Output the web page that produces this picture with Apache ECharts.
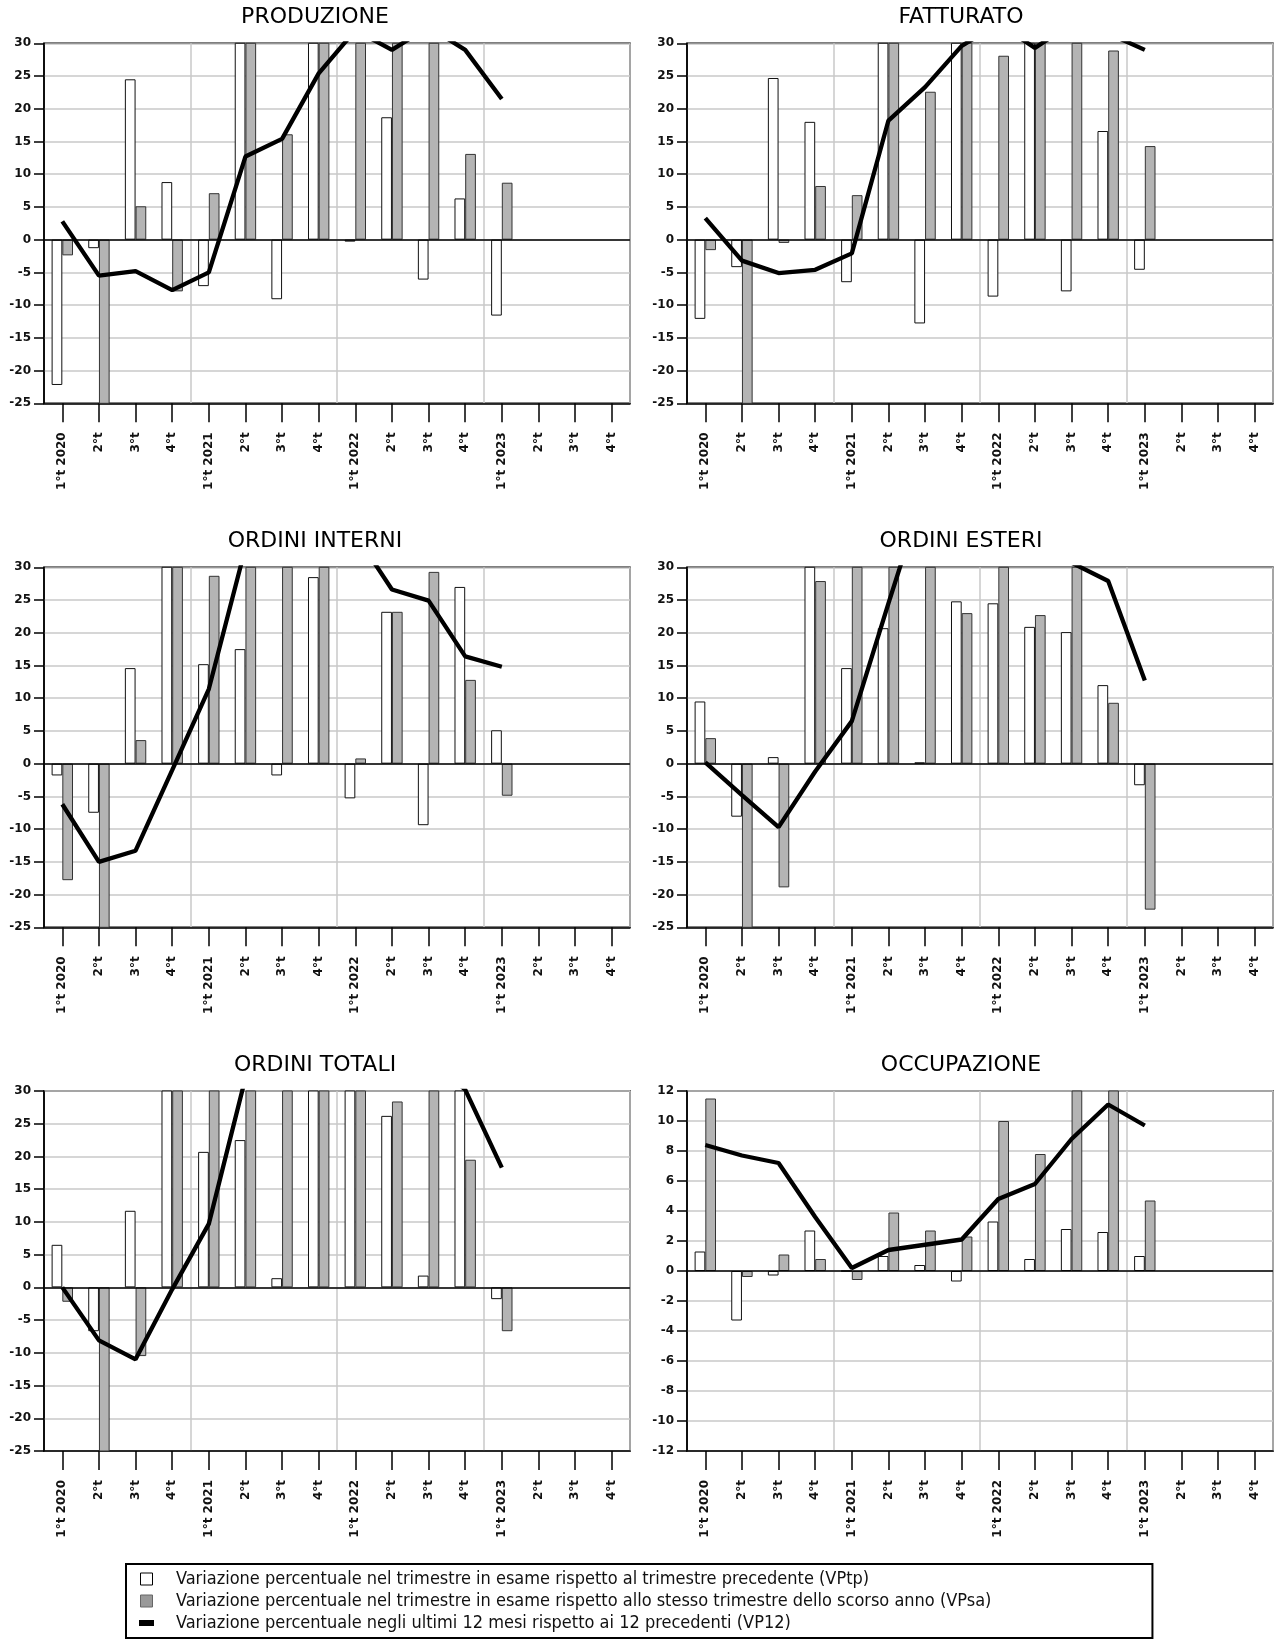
<!DOCTYPE html>
<html><head><meta charset="utf-8">
<script src="https://cdn.jsdelivr.net/npm/echarts@6/dist/echarts.min.js"></script>
<style>html,body{margin:0;padding:0;background:#fff}#c{width:1276px;height:1642px}</style>
</head><body><div id="c"></div><script>
// ---- data ----
const categories = ['1°t 2020','2°t','3°t','4°t','1°t 2021','2°t','3°t','4°t','1°t 2022','2°t','3°t','4°t','1°t 2023','2°t','3°t','4°t'];
const titles = ['PRODUZIONE','FATTURATO','ORDINI INTERNI','ORDINI ESTERI','ORDINI TOTALI','OCCUPAZIONE'];
const seriesNames = [
  'Variazione percentuale nel trimestre in esame rispetto al trimestre precedente (VPtp)',
  'Variazione percentuale nel trimestre in esame rispetto allo stesso trimestre dello scorso anno (VPsa)',
  'Variazione percentuale negli ultimi 12 mesi rispetto ai 12 precedenti (VP12)'
];
const produzioneVPtp = [-22.2, -1.3, 24.5, 8.8, -7.1, 38, -9.1, 40, -0.3, 18.7, -6.1, 6.3, -11.6];
const produzioneVPsa = [-2.4, -30, 5.1, -7.9, 7.1, 45, 16.1, 35, 33, 31, 32, 13.1, 8.7];
const produzioneVP12 = [2.8, -5.5, -4.8, -7.7, -5.0, 12.7, 15.4, 25.4, 32, 29.0, 32.5, 29.0, 21.5];

const fatturatoVPtp = [-12.1, -4.2, 24.7, 18.0, -6.5, 35, -12.8, 36, -8.7, 33, -7.9, 16.6, -4.6];
const fatturatoVPsa = [-1.6, -30, -0.5, 8.2, 6.8, 40, 22.6, 34, 28.1, 31, 35, 28.9, 14.3];
const fatturatoVP12 = [3.3, -3.2, -5.1, -4.6, -2.1, 18.2, 23.3, 29.6, 33, 29.3, 33, 31.5, 29.0];

const interniVPtp = [-1.8, -7.5, 14.6, 35, 15.2, 17.5, -1.8, 28.5, -5.3, 23.2, -9.4, 27.0, 5.1];
const interniVPsa = [-17.8, -28, 3.6, 40, 28.7, 38, 33, 34, 0.8, 23.2, 29.3, 12.8, -4.9];
const interniVP12 = [-6.2, -15.0, -13.3, -1.0, 11.4, 33, 38, 37, 35.1, 26.6, 24.9, 16.4, 14.8];

const esteriVPtp = [9.5, -8.1, 1.0, 34, 14.6, 20.7, 0.2, 24.8, 24.5, 20.9, 20.1, 12.0, -3.3];
const esteriVPsa = [3.9, -32, -18.9, 27.9, 35, 40, 45, 23.0, 32, 22.7, 31, 9.3, -22.3];
const esteriVP12 = [0.2, -4.8, -9.7, -1.2, 6.5, 24.5, 42, 40, 38, 34, 30.7, 27.9, 12.7];

const totaliVPtp = [6.5, -6.7, 11.7, 35, 20.7, 22.5, 1.4, 33, 31, 26.2, 1.8, 32, -1.8];
const totaliVPsa = [-2.2, -30, -10.5, 38, 40, 42, 36, 37, 34, 28.4, 33, 19.5, -6.7];
const totaliVP12 = [0.0, -8.1, -11.0, -0.3, 9.7, 32, 38, 40, 41, 39, 35, 30.2, 18.3];

const occupazioneVPtp = [1.3, -3.3, -0.3, 2.7, 0.0, 1.0, 0.4, -0.7, 3.3, 0.8, 2.8, 2.6, 1.0];
const occupazioneVPsa = [11.5, -0.4, 1.1, 0.8, -0.6, 3.9, 2.7, 2.3, 10.0, 7.8, 13.5, 12.8, 4.7];
const occupazioneVP12 = [8.4, 7.7, 7.2, 3.6, 0.2, 1.4, 1.75, 2.1, 4.8, 5.8, 8.8, 11.1, 9.7];

const yRanges = [[-25, 30, 5], [-25, 30, 5], [-25, 30, 5], [-25, 30, 5], [-25, 30, 5], [-12, 12, 2]];
const panelData = [
  [produzioneVPtp, produzioneVPsa, produzioneVP12],
  [fatturatoVPtp, fatturatoVPsa, fatturatoVP12],
  [interniVPtp, interniVPsa, interniVP12],
  [esteriVPtp, esteriVPsa, esteriVP12],
  [totaliVPtp, totaliVPsa, totaliVP12],
  [occupazioneVPtp, occupazioneVPsa, occupazioneVP12]
];

// ---- layout ----
const colLeft = [44, 687];
const colCenter = [315, 961];
const rowTop = [43.3, 567.3, 1091];
const titleTop = [6, 530, 1054];
const GW = 586, GH = 360;
const axisFont = {fontFamily: 'DejaVu Sans', fontWeight: 'bold', fontSize: 12, color: '#111'};
const gridGray = '#c8c8c8';

const grid = [], xAxis = [], yAxis = [], series = [], title = [];
panelData.forEach((d, i) => {
  const col = i % 2, row = Math.floor(i / 2);
  grid.push({left: colLeft[col], top: rowTop[row], width: GW, height: GH, show: true,
    borderColor: '#000', borderWidth: 1.5, backgroundColor: 'transparent', containLabel: false});
  title.push({text: titles[i], left: colCenter[col], top: titleTop[row], textAlign: 'center', padding: 0,
    textStyle: {fontFamily: 'DejaVu Sans', fontWeight: 'normal', fontSize: 22, color: '#000'}});
  xAxis.push({type: 'category', gridIndex: i, data: categories, boundaryGap: true,
    axisLine: {show: true, onZero: false, lineStyle: {color: '#000', width: 1.5}},
    axisTick: {show: true, alignWithLabel: true, interval: 0, length: 19, lineStyle: {color: '#000', width: 1.5}},
    axisLabel: Object.assign({interval: 0, rotate: 90, margin: 29}, axisFont),
    splitLine: {show: true, interval: (idx) => idx > 0 && idx % 4 === 0, lineStyle: {color: gridGray, width: 1.5}}});
  const [mn, mx, iv] = yRanges[i];
  yAxis.push({type: 'value', gridIndex: i, min: mn, max: mx, interval: iv,
    axisLine: {show: true, lineStyle: {color: '#000', width: 1.5}},
    axisTick: {show: true, length: 10, lineStyle: {color: '#000', width: 1.5}},
    axisLabel: Object.assign({margin: 13}, axisFont),
    splitLine: {show: true, lineStyle: {color: gridGray, width: 1.5}}});
  series.push({type: 'bar', name: seriesNames[0], xAxisIndex: i, yAxisIndex: i, data: d[0],
    barWidth: 10.7, barGap: '0%', clip: true, silent: true,
    itemStyle: {color: '#ffffff', borderColor: '#111', borderWidth: 1}});
  series.push({type: 'bar', name: seriesNames[1], xAxisIndex: i, yAxisIndex: i, data: d[1],
    barWidth: 10.7, barGap: '0%', clip: true, silent: true,
    itemStyle: {color: '#b4b4b4', borderColor: '#333', borderWidth: 1}});
  series.push({type: 'line', name: seriesNames[2], xAxisIndex: i, yAxisIndex: i, data: d[2],
    showSymbol: false, symbol: 'none', clip: true, silent: true, z: 5,
    lineStyle: {color: '#000', width: 4.3}, itemStyle: {color: '#000'},
    markLine: {silent: true, symbol: 'none', label: {show: false}, animation: false,
      lineStyle: {color: '#000', width: 1.5, type: 'solid'}, data: [{yAxis: 0}]}});
});

const chart = echarts.init(document.getElementById('c'), null, {renderer: 'canvas', width: 1276, height: 1642});
chart.setOption({
  backgroundColor: '#fff',
  animation: false,
  title, grid, xAxis, yAxis, series,
  legend: {
    orient: 'vertical', left: 126, top: 1564, padding: [6, 161, 6, 13],
    itemWidth: 15, itemHeight: 12, itemGap: 4, selectedMode: false,
    borderColor: '#000', borderWidth: 2, backgroundColor: '#fff',
    textStyle: {fontFamily: 'DejaVu Sans Condensed', fontSize: 18, lineHeight: 18, color: '#111', padding: [0, 0, 0, 17]},
    data: [
      {name: seriesNames[0], icon: 'path://M0,0H12V12H0Z', itemStyle: {color: '#fff', borderColor: '#000', borderWidth: 1}},
      {name: seriesNames[1], icon: 'path://M0,0H12V12H0Z', itemStyle: {color: '#999', borderColor: '#666', borderWidth: 1}},
      {name: seriesNames[2], icon: 'path://M0,0H15V6H0Z', itemStyle: {color: '#000', borderWidth: 0}, lineStyle: {width: 0}}
    ]
  }
});
</script></body></html>
